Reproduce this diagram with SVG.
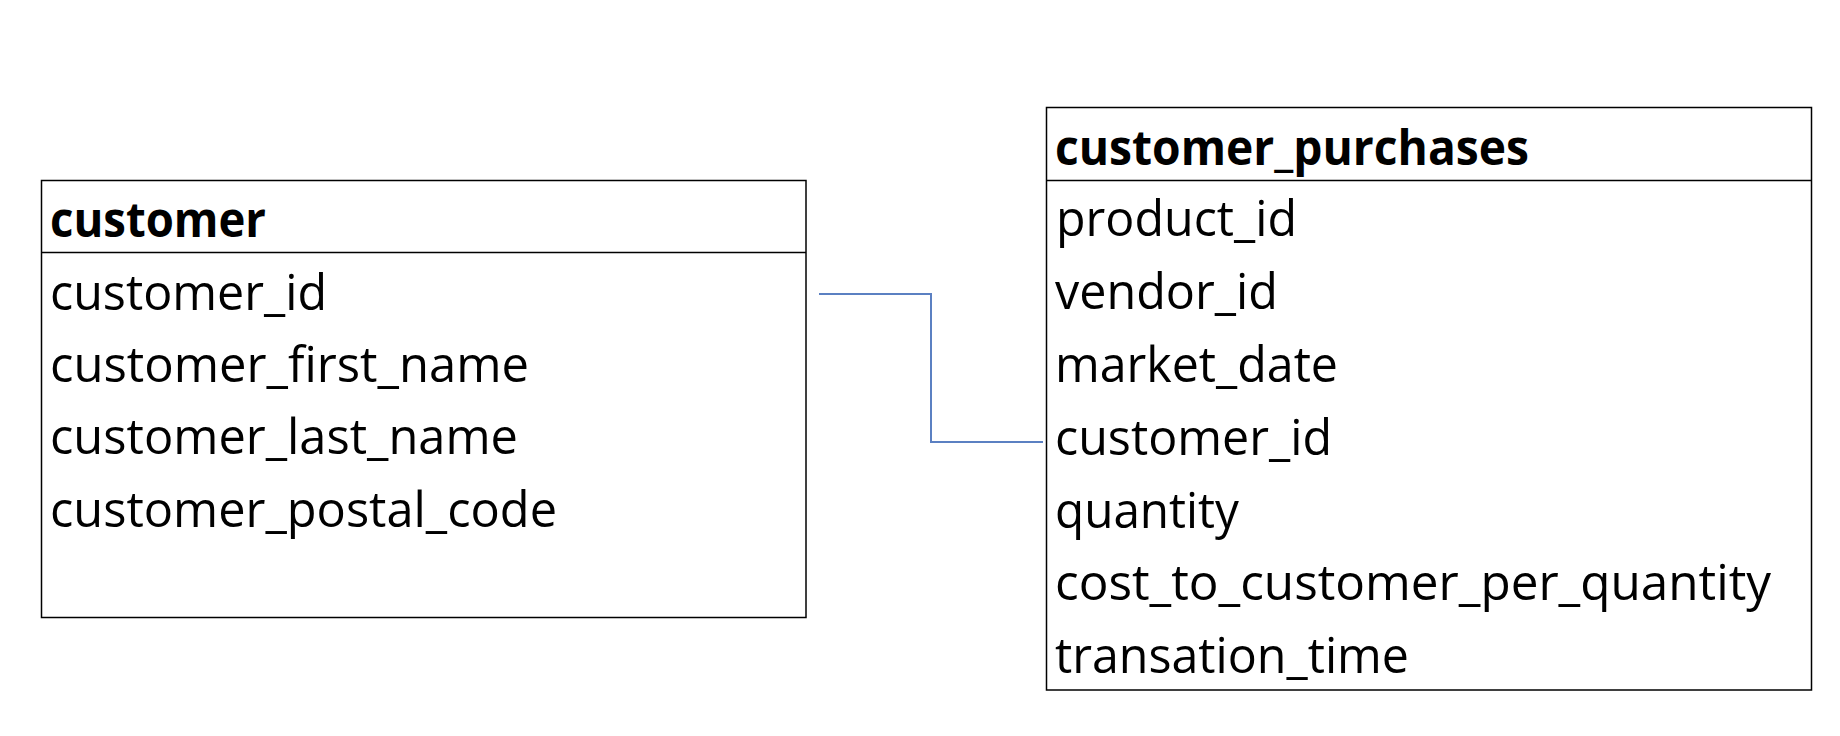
<svg xmlns="http://www.w3.org/2000/svg" width="1840" height="736" viewBox="0 0 1840 736">
<style>
.box{fill:#fff;stroke:#000;stroke-width:1.5}
.sep{stroke:#000;stroke-width:1.5}
.t{font-family:"Open Sans","Noto Sans",sans-serif;font-size:49px;fill:#000}
.h{font-weight:bold}
.conn{fill:none;stroke:#5b80c2;stroke-width:2}
</style>
<rect width="1840" height="736" fill="#fff"/>
<g id="customer">
<rect class="box" x="41.5" y="180.5" width="764.5" height="437"/>
<line class="sep" x1="41.5" y1="252.5" x2="806" y2="252.5"/>
<text class="t h" x="50" y="237" textLength="216" lengthAdjust="spacingAndGlyphs">customer</text>
<text class="t" x="50" y="310" textLength="277" lengthAdjust="spacingAndGlyphs">customer_id</text>
<text class="t" x="50" y="382" textLength="479" lengthAdjust="spacingAndGlyphs">customer_first_name</text>
<text class="t" x="50" y="454" textLength="468" lengthAdjust="spacingAndGlyphs">customer_last_name</text>
<text class="t" x="50" y="527" textLength="507" lengthAdjust="spacingAndGlyphs">customer_postal_code</text>
</g>
<g id="customer_purchases">
<rect class="box" x="1046.5" y="107.5" width="765" height="582.5"/>
<line class="sep" x1="1046.5" y1="180.5" x2="1811.5" y2="180.5"/>
<text class="t h" x="1055" y="165" textLength="474" lengthAdjust="spacingAndGlyphs">customer_purchases</text>
<text class="t" x="1056" y="236" textLength="241" lengthAdjust="spacingAndGlyphs">product_id</text>
<text class="t" x="1055" y="309" textLength="223" lengthAdjust="spacingAndGlyphs">vendor_id</text>
<text class="t" x="1055" y="382" textLength="283" lengthAdjust="spacingAndGlyphs">market_date</text>
<text class="t" x="1055" y="455" textLength="277" lengthAdjust="spacingAndGlyphs">customer_id</text>
<text class="t" x="1055" y="528" textLength="184" lengthAdjust="spacingAndGlyphs">quantity</text>
<text class="t" x="1055" y="600" textLength="716" lengthAdjust="spacingAndGlyphs">cost_to_customer_per_quantity</text>
<text class="t" x="1055" y="673" textLength="354" lengthAdjust="spacingAndGlyphs">transation_time</text>
</g>
<g id="connectors">
<polyline class="conn" points="819,294 931,294 931,442 1043,442"/>
</g>
</svg>
